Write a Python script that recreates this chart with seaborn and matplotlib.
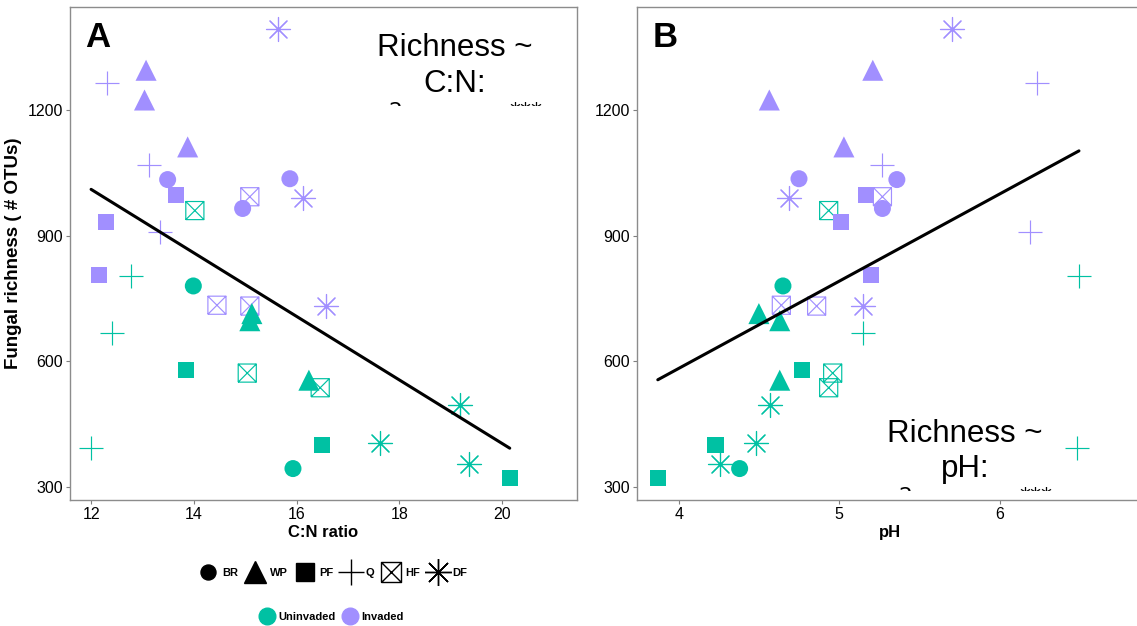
import numpy as np
import pandas as pd
import matplotlib
matplotlib.use("Agg")
import matplotlib.pyplot as plt
from matplotlib.path import Path
from matplotlib.markers import MarkerStyle
from matplotlib.lines import Line2D
from matplotlib.patches import Rectangle
import seaborn as sns

# one entry per soil sample
FOREST = ['DF', 'DF', 'DF', 'Q', 'Q', 'Q', 'WP', 'WP', 'WP', 'BR', 'BR', 'BR',
          'PF', 'PF', 'PF', 'HF', 'HF', 'HF',
          'BR', 'BR', 'WP', 'WP', 'WP', 'PF', 'PF', 'PF', 'Q', 'Q', 'Q',
          'HF', 'HF', 'HF', 'DF', 'DF', 'DF']
STATUS = ['Invaded'] * 18 + ['Uninvaded'] * 17
RICHNESS = [1394, 991, 732, 1264, 1069, 909, 1295, 1224, 1112, 1034, 1036, 965,
            997, 933, 806, 993, 734, 732,
            780, 344, 714, 697, 555, 579, 400, 322, 803, 668, 392,
            960, 572, 537, 495, 404, 356]
CN_RATIO = [15.63, 16.13, 16.58, 12.31, 13.13, 13.35, 13.07, 13.04, 13.88, 13.49, 15.87, 14.95,
            13.65, 12.29, 12.16, 15.09, 14.45, 15.09,
            13.99, 15.93, 15.13, 15.09, 16.24, 13.85, 16.50, 20.15, 12.77, 12.41, 12.00,
            14.02, 15.04, 16.46, 19.18, 17.62, 19.35]
PH = [5.705, 4.69, 5.15, 6.235, 5.27, 6.19, 5.21, 4.565, 5.03, 5.36, 4.75, 5.27,
      5.17, 5.01, 5.20, 5.27, 4.64, 4.86,
      4.65, 4.38, 4.50, 4.63, 4.63, 4.77, 4.23, 3.87, 6.495, 5.15, 6.48,
      4.935, 4.96, 4.935, 4.57, 4.48, 4.26]

FOREST_ORDER = ['BR', 'WP', 'PF', 'Q', 'HF', 'DF']
STATUS_ORDER = ['Uninvaded', 'Invaded']
PALETTE = {'Uninvaded': '#00C1A3', 'Invaded': '#A18FFF'}

# square with a cross through it (like R pch 7)
box_x = MarkerStyle(Path([(-1, -1), (1, -1), (1, 1), (-1, 1), (-1, -1),
                          (-1, -1), (1, 1), (-1, 1), (1, -1)],
                         [Path.MOVETO, Path.LINETO, Path.LINETO, Path.LINETO, Path.LINETO,
                          Path.MOVETO, Path.LINETO, Path.MOVETO, Path.LINETO]),
                    fillstyle='none')
MARKERS = {'BR': 'o', 'WP': '^', 'PF': 's', 'Q': '+', 'HF': box_x, 'DF': (8, 2, 0)}
SIZES = {'BR': 150, 'WP': 230, 'PF': 135, 'Q': 300, 'HF': 170, 'DF': 300}
LEG_SIZES = {'BR': 10.8, 'WP': 15.8, 'PF': 13, 'Q': 19.4, 'HF': 14.4, 'DF': 19.4}
LINE_MARKERS = ['Q', 'HF', 'DF']

df = pd.DataFrame({'forest': FOREST, 'status': STATUS, 'richness': RICHNESS,
                   'cn': CN_RATIO, 'ph': PH})

sns.set_style('white')
plt.rcParams['font.family'] = ['Liberation Sans', 'DejaVu Sans']
plt.rcParams['text.color'] = 'black'
plt.rcParams['axes.labelcolor'] = 'black'


def draw_panel(ax, xvar, xlabel, xlim, xticks, letter, text, text_x, text_y, clip_y):
    for (forest, status), sub in df.groupby(['forest', 'status']):
        if forest in LINE_MARKERS:
            sns.scatterplot(data=sub, x=xvar, y='richness', marker=MARKERS[forest],
                            s=SIZES[forest], color=PALETTE[status], linewidth=0.85,
                            legend=False, ax=ax, zorder=2)
        else:
            sns.scatterplot(data=sub, x=xvar, y='richness', marker=MARKERS[forest],
                            s=SIZES[forest], color=PALETTE[status], edgecolor='none',
                            linewidth=0, legend=False, ax=ax, zorder=2)
    sns.regplot(data=df, x=xvar, y='richness', scatter=False, ci=None, truncate=True,
                color='black', line_kws=dict(lw=2.2, zorder=3), ax=ax)

    ax.set_xlim(*xlim)
    ax.set_ylim(269, 1446)
    ax.set_xticks(xticks)
    ax.set_yticks([300, 600, 900, 1200])
    ax.set_xlabel(xlabel, fontsize=12, fontweight='bold', labelpad=2)
    ax.tick_params(axis='both', direction='out', length=3, width=0.8, color='#7f7f7f',
                   labelsize=11.5, labelcolor='black', pad=2, bottom=True, left=True)
    for sp in ax.spines.values():
        sp.set_color('#8c8c8c')
        sp.set_linewidth(1.0)

    ax.text(0.03, 0.972, letter, transform=ax.transAxes, fontsize=25, fontweight='bold',
            ha='left', va='top', color='black')
    t = ax.text(text_x, text_y, text, transform=ax.transAxes, fontsize=22.5, ha='center',
                va='top', multialignment='center', linespacing=1.24, zorder=4)
    clip = Rectangle((0, clip_y), 1, 1 - clip_y, transform=ax.transAxes)
    t.set_clip_path(clip)
    t.set_clip_on(True)


fig = plt.figure(figsize=(11.37, 6.26), dpi=100)
ax1 = fig.add_axes([0.0616, 0.2013, 0.4459, 0.7875])
ax2 = fig.add_axes([0.5602, 0.2013, 0.4459, 0.7875])

stat_line = r'R$^{2}$ = 0.32 $^{{*}{*}{*}}$'
draw_panel(ax1, 'cn', 'C:N ratio', (11.59, 21.46), [12, 14, 16, 18, 20], 'A',
           'Richness ~\nC:N:\n' + stat_line, 0.759, 0.947, 0.799)
draw_panel(ax2, 'ph', 'pH', (3.74, 6.90), [4, 5, 6], 'B',
           'Richness ~\npH:\n' + stat_line, 0.647, 0.165, 0.018)

ax1.set_ylabel('Fungal richness ( # OTUs)', fontsize=13.5, fontweight='bold', labelpad=4)
ax2.set_ylabel('')

# legends: forest type (shape) and invasion status (colour)
forest_handles = []
for f in FOREST_ORDER:
    if f == 'HF':
        h = Line2D([0], [0], marker=MARKERS[f], linestyle='None', markersize=LEG_SIZES[f],
                   markeredgecolor='black', markerfacecolor='none', markeredgewidth=1.0)
    else:
        h = Line2D([0], [0], marker=MARKERS[f], linestyle='None', markersize=LEG_SIZES[f],
                   color='black', markeredgewidth=1.0)
    forest_handles.append(h)
leg1 = fig.legend(forest_handles, FOREST_ORDER, loc='center', ncol=6, frameon=False,
                  bbox_to_anchor=(0.291, 1 - 573 / 626), prop=dict(size=8, weight='bold'),
                  handletextpad=0.15, columnspacing=0.4, handlelength=2.3)

status_handles = [Line2D([0], [0], marker='o', linestyle='None', markersize=12,
                         color=PALETTE[s]) for s in STATUS_ORDER]
leg2 = fig.legend(status_handles, STATUS_ORDER, loc='center', ncol=2, frameon=False,
                  bbox_to_anchor=(0.291, 1 - 617 / 626), prop=dict(size=8, weight='bold'),
                  handletextpad=0.2, columnspacing=0.5, handlelength=1.6)

fig.savefig('out.png', dpi=100)
